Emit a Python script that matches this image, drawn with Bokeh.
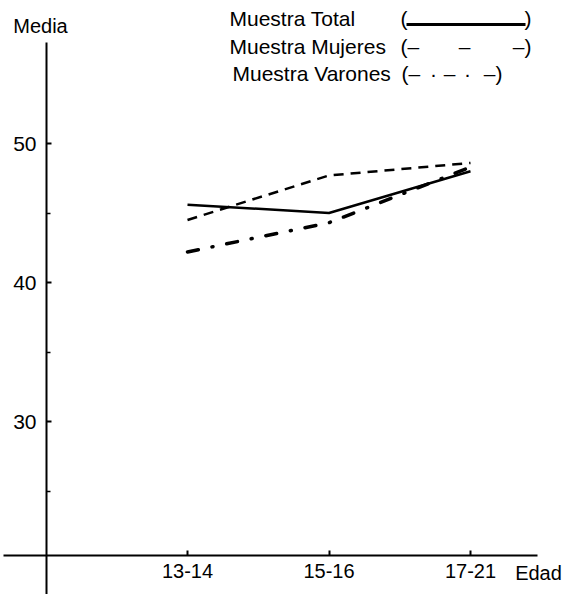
from bokeh.plotting import figure
from bokeh.models import FixedTicker, Label
from bokeh.embed import file_html
from bokeh.resources import INLINE

# ---- data ----
grupos = ["13-14", "15-16", "17-21"]
total = [45.6, 45.0, 48.0]
mujeres = [44.5, 47.7, 48.6]
varones = [42.2, 44.3, 48.3]
y_ticks = [30, 40, 50]
y_minor = [25, 35, 45]
serie_nombres = ["Muestra Total", "Muestra Mujeres", "Muestra Varones"]

FONT = "Liberation Sans"
W, H = 565, 594
x = list(range(len(grupos)))

# canvas-pixel -> data helpers (for annotation placement only)
def px2x(px):
    return (px - 187) / 141.5

def py2y(py):
    return 50 - (py - 143) / 13.9

p = figure(width=W, height=H, output_backend="svg", toolbar_location=None,
           x_range=(px2x(0), px2x(W)), y_range=(py2y(H), py2y(0)),
           min_border=0)
p.outline_line_color = None
p.grid.visible = False
p.background_fill_color = "white"
p.border_fill_color = "white"

# ---- axes ----
xa = p.xaxis[0]
xa.fixed_location = py2y(555)
xa.ticker = FixedTicker(ticks=x, minor_ticks=[])
xa.major_label_overrides = {i: g for i, g in enumerate(grupos)}
xa.bounds = (px2x(3), px2x(537))
xa.axis_line_width = 2
xa.axis_line_color = "black"
xa.major_tick_in = 5
xa.major_tick_out = 0
xa.major_tick_line_width = 2
xa.major_label_standoff = 8
xa.major_label_text_font = FONT
xa.major_label_text_font_size = "20px"
xa.major_label_text_color = "black"

ya = p.yaxis[0]
ya.fixed_location = px2x(46)
ya.ticker = FixedTicker(ticks=y_ticks, minor_ticks=y_minor)
ya.bounds = (py2y(H), py2y(42))
ya.axis_line_width = 2
ya.axis_line_color = "black"
ya.major_tick_in = 5
ya.major_tick_out = 0
ya.minor_tick_in = 4
ya.minor_tick_out = 0
ya.major_tick_line_width = 2
ya.minor_tick_line_width = 1.5
ya.major_label_standoff = 10
ya.major_label_text_font = FONT
ya.major_label_text_font_size = "21px"
ya.major_label_text_color = "black"

# ---- series ----
p.line(x, total, line_color="black", line_width=2.5)
p.line(x, mujeres, line_color="black", line_width=2.5, line_dash="10 7")
p.line(x, varones, line_color="black", line_width=3.5, line_dash="11 14 1 14",
       line_cap="round")

# ---- text helper ----
def lab(px, py, t, align="left", size="20px"):
    p.add_layout(Label(x=px2x(px), y=py2y(py), text=t, text_font=FONT,
                       text_font_size=size, text_align=align,
                       text_baseline="middle", text_color="black"))

# ---- axis titles ----
lab(40, 25, "Media", "center", "20px")
lab(538, 572, "Edad", "center", "20px")

# ---- legend ----
lab(229, 18, serie_nombres[0], size="21px")
lab(229, 46, serie_nombres[1], size="21px")
lab(232, 73, serie_nombres[2], size="21px")

lab(400, 18, "(", size="21px")
lab(531, 18, ")", "right", size="21px")
p.line([px2x(406), px2x(525)], [py2y(24), py2y(24)], line_color="black",
       line_width=3)

lab(400, 46, "(–", size="21px")
lab(464, 46, "–", "center", size="21px")
lab(531, 46, "–)", "right", size="21px")

lab(401, 73, "(–", size="21px")
lab(433, 73, "·", "center", size="21px")
lab(449, 73, "–", "center", size="21px")
lab(467, 73, "·", "center", size="21px")
lab(502, 73, "–)", "right", size="21px")

open("out.html", "w").write(file_html(p, INLINE))
